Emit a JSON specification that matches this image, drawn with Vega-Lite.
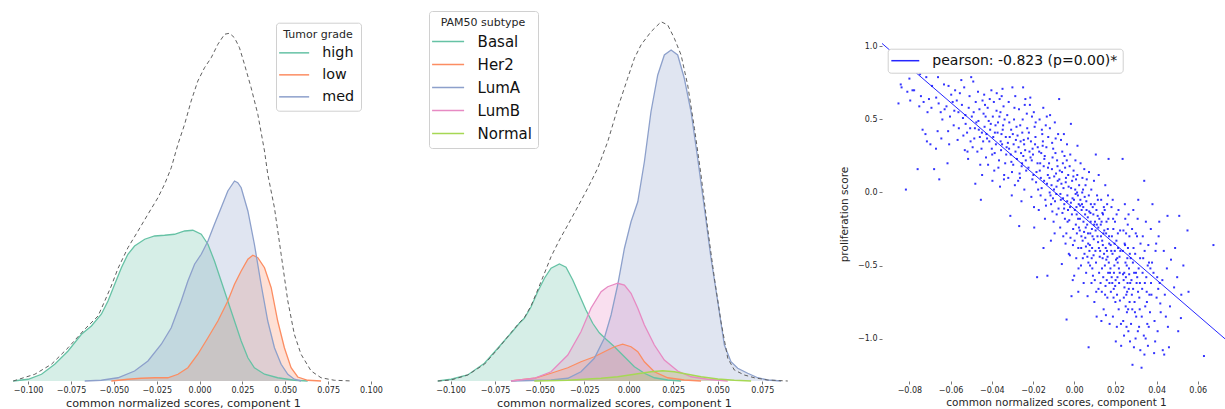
{
"$schema":"https://vega.github.io/schema/vega-lite/v6.json",
"padding":{"left":10,"top":10,"right":0,"bottom":0},
"autosize":{"type":"pad"},
"bounds":"flush",
"spacing":65,
"resolve":{"scale":{"fill":"independent","stroke":"independent","color":"independent"},"legend":{"fill":"independent","stroke":"independent","color":"independent"}},
"config":{"view":{"stroke":null},
"axis":{"domain":false,"grid":false,"labelFont":"DejaVu Sans","titleFont":"DejaVu Sans","labelFontSize":8,"titleFontSize":11.2,"tickColor":"#777","tickSize":3,"labelColor":"#262626","titleColor":"#262626","titleFontWeight":"normal","labelPadding":2,"titlePadding":3},
"legend":{"labelFont":"DejaVu Sans","titleFont":"DejaVu Sans","titleFontWeight":"normal","labelColor":"#111111","titleColor":"#262626","labelLimit":400}},
"datasets":{
"kde1":[
{"g":"high","x":-0.1087,"d":0},{"g":"high","x":-0.1,"d":0.07},{"g":"high","x":-0.0922,"d":0.27},{"g":"high","x":-0.0845,"d":0.67},{"g":"high","x":-0.0767,"d":1.2},{"g":"high","x":-0.0689,"d":1.87},{"g":"high","x":-0.0631,"d":2.2},{"g":"high","x":-0.0573,"d":2.67},{"g":"high","x":-0.0534,"d":3.2},{"g":"high","x":-0.0495,"d":3.87},{"g":"high","x":-0.0456,"d":4.53},{"g":"high","x":-0.0418,"d":5.07},{"g":"high","x":-0.0379,"d":5.4},{"g":"high","x":-0.032,"d":5.67},{"g":"high","x":-0.0262,"d":5.8},{"g":"high","x":-0.0204,"d":5.83},{"g":"high","x":-0.0146,"d":5.87},{"g":"high","x":-0.0087,"d":6.0},{"g":"high","x":-0.0039,"d":6.03},{"g":"high","x":0.001,"d":5.87},{"g":"high","x":0.0049,"d":5.47},{"g":"high","x":0.0087,"d":4.8},{"g":"high","x":0.0126,"d":4.0},{"g":"high","x":0.0165,"d":3.2},{"g":"high","x":0.0204,"d":2.4},{"g":"high","x":0.0243,"d":1.6},{"g":"high","x":0.0282,"d":0.93},{"g":"high","x":0.032,"d":0.53},{"g":"high","x":0.0379,"d":0.27},{"g":"high","x":0.0456,"d":0.13},{"g":"high","x":0.0553,"d":0.03},{"g":"high","x":0.0631,"d":0},
{"g":"low","x":-0.0515,"d":0},{"g":"low","x":-0.0418,"d":0.07},{"g":"low","x":-0.034,"d":0.11},{"g":"low","x":-0.0262,"d":0.13},{"g":"low","x":-0.0185,"d":0.13},{"g":"low","x":-0.0126,"d":0.27},{"g":"low","x":-0.0068,"d":0.53},{"g":"low","x":-0.001,"d":1.07},{"g":"low","x":0.0049,"d":1.73},{"g":"low","x":0.0107,"d":2.4},{"g":"low","x":0.0165,"d":3.2},{"g":"low","x":0.0204,"d":3.87},{"g":"low","x":0.0243,"d":4.4},{"g":"low","x":0.0282,"d":4.87},{"g":"low","x":0.0311,"d":5.03},{"g":"low","x":0.034,"d":4.93},{"g":"low","x":0.0379,"d":4.53},{"g":"low","x":0.0418,"d":3.73},{"g":"low","x":0.0456,"d":2.4},{"g":"low","x":0.0495,"d":1.33},{"g":"low","x":0.0534,"d":0.53},{"g":"low","x":0.0573,"d":0.16},{"g":"low","x":0.0631,"d":0.03},{"g":"low","x":0.0709,"d":0},
{"g":"med","x":-0.067,"d":0},{"g":"med","x":-0.0573,"d":0.03},{"g":"med","x":-0.0476,"d":0.13},{"g":"med","x":-0.0379,"d":0.4},{"g":"med","x":-0.0301,"d":0.8},{"g":"med","x":-0.0223,"d":1.47},{"g":"med","x":-0.0165,"d":2.13},{"g":"med","x":-0.0107,"d":3.2},{"g":"med","x":-0.0068,"d":4.0},{"g":"med","x":-0.0029,"d":4.67},{"g":"med","x":0.001,"d":5.07},{"g":"med","x":0.0049,"d":5.6},{"g":"med","x":0.0087,"d":6.27},{"g":"med","x":0.0126,"d":6.93},{"g":"med","x":0.0165,"d":7.6},{"g":"med","x":0.0204,"d":8.0},{"g":"med","x":0.0223,"d":7.93},{"g":"med","x":0.0243,"d":7.73},{"g":"med","x":0.0282,"d":6.8},{"g":"med","x":0.032,"d":5.47},{"g":"med","x":0.0359,"d":3.87},{"g":"med","x":0.0398,"d":2.4},{"g":"med","x":0.0437,"d":1.33},{"g":"med","x":0.0476,"d":0.67},{"g":"med","x":0.0515,"d":0.27},{"g":"med","x":0.0553,"d":0.07},{"g":"med","x":0.0592,"d":0}
],
"tot1":[
{"x":-0.1087,"d":0},{"x":-0.0961,"d":0.27},{"x":-0.0864,"d":0.67},{"x":-0.0767,"d":1.33},{"x":-0.067,"d":2.07},{"x":-0.0592,"d":2.6},{"x":-0.0553,"d":3.2},{"x":-0.0515,"d":3.8},{"x":-0.0476,"d":4.5},{"x":-0.0418,"d":5.33},{"x":-0.0359,"d":6.0},{"x":-0.0301,"d":6.67},{"x":-0.0243,"d":7.33},{"x":-0.0204,"d":7.87},{"x":-0.0165,"d":8.53},{"x":-0.0126,"d":9.47},{"x":-0.0087,"d":10.27},{"x":-0.0049,"d":11.2},{"x":-0.001,"d":12.0},{"x":0.0029,"d":12.53},{"x":0.0068,"d":12.93},{"x":0.0107,"d":13.47},{"x":0.0146,"d":13.87},{"x":0.0175,"d":13.91},{"x":0.0204,"d":13.73},{"x":0.0233,"d":13.33},{"x":0.0262,"d":12.67},{"x":0.0301,"d":11.73},{"x":0.034,"d":10.67},{"x":0.0379,"d":9.2},{"x":0.0398,"d":8.27},{"x":0.0437,"d":6.93},{"x":0.0476,"d":5.07},{"x":0.0515,"d":3.2},{"x":0.0553,"d":1.87},{"x":0.0592,"d":1.07},{"x":0.0651,"d":0.4},{"x":0.0709,"d":0.13},{"x":0.0786,"d":0.03},{"x":0.0893,"d":0}
],
"kde2":[
{"g":"Basal","x":-0.1072,"d":0},{"g":"Basal","x":-0.0997,"d":0.07},{"g":"Basal","x":-0.0904,"d":0.24},{"g":"Basal","x":-0.081,"d":0.71},{"g":"Basal","x":-0.0735,"d":1.31},{"g":"Basal","x":-0.0661,"d":1.91},{"g":"Basal","x":-0.0614,"d":2.31},{"g":"Basal","x":-0.0586,"d":2.51},{"g":"Basal","x":-0.0548,"d":2.97},{"g":"Basal","x":-0.0511,"d":3.57},{"g":"Basal","x":-0.0473,"d":4.11},{"g":"Basal","x":-0.0436,"d":4.51},{"g":"Basal","x":-0.0389,"d":4.68},{"g":"Basal","x":-0.0352,"d":4.55},{"g":"Basal","x":-0.0314,"d":4.04},{"g":"Basal","x":-0.0277,"d":3.44},{"g":"Basal","x":-0.024,"d":2.84},{"g":"Basal","x":-0.0202,"d":2.31},{"g":"Basal","x":-0.0165,"d":1.93},{"g":"Basal","x":-0.0127,"d":1.67},{"g":"Basal","x":-0.008,"d":1.37},{"g":"Basal","x":-0.0024,"d":0.97},{"g":"Basal","x":0.0032,"d":0.57},{"g":"Basal","x":0.0088,"d":0.31},{"g":"Basal","x":0.0144,"d":0.13},{"g":"Basal","x":0.0219,"d":0.04},{"g":"Basal","x":0.0294,"d":0},
{"g":"Her2","x":-0.0661,"d":0},{"g":"Her2","x":-0.053,"d":0.11},{"g":"Her2","x":-0.0436,"d":0.31},{"g":"Her2","x":-0.0342,"d":0.53},{"g":"Her2","x":-0.0268,"d":0.77},{"g":"Her2","x":-0.0193,"d":0.97},{"g":"Her2","x":-0.0137,"d":1.17},{"g":"Her2","x":-0.008,"d":1.37},{"g":"Her2","x":-0.0034,"d":1.47},{"g":"Her2","x":0.0013,"d":1.37},{"g":"Her2","x":0.0051,"d":1.17},{"g":"Her2","x":0.0088,"d":0.77},{"g":"Her2","x":0.0144,"d":0.37},{"g":"Her2","x":0.0219,"d":0.13},{"g":"Her2","x":0.0312,"d":0.04},{"g":"Her2","x":0.0406,"d":0},
{"g":"LumA","x":-0.0661,"d":0},{"g":"LumA","x":-0.0436,"d":0.04},{"g":"LumA","x":-0.0342,"d":0.11},{"g":"LumA","x":-0.0268,"d":0.37},{"g":"LumA","x":-0.0193,"d":0.91},{"g":"LumA","x":-0.0137,"d":1.71},{"g":"LumA","x":-0.0099,"d":2.64},{"g":"LumA","x":-0.0062,"d":3.84},{"g":"LumA","x":-0.0024,"d":5.31},{"g":"LumA","x":0.0013,"d":6.37},{"g":"LumA","x":0.0051,"d":7.17},{"g":"LumA","x":0.0088,"d":8.77},{"g":"LumA","x":0.0125,"d":10.77},{"g":"LumA","x":0.0163,"d":12.24},{"g":"LumA","x":0.02,"d":13.04},{"g":"LumA","x":0.0238,"d":13.24},{"g":"LumA","x":0.0275,"d":13.04},{"g":"LumA","x":0.0312,"d":12.11},{"g":"LumA","x":0.035,"d":10.77},{"g":"LumA","x":0.0387,"d":8.91},{"g":"LumA","x":0.0425,"d":6.91},{"g":"LumA","x":0.0462,"d":4.91},{"g":"LumA","x":0.05,"d":3.17},{"g":"LumA","x":0.0537,"d":1.44},{"g":"LumA","x":0.0574,"d":0.77},{"g":"LumA","x":0.0612,"d":0.51},{"g":"LumA","x":0.0668,"d":0.31},{"g":"LumA","x":0.0724,"d":0.13},{"g":"LumA","x":0.078,"d":0.04},{"g":"LumA","x":0.0855,"d":0},
{"g":"LumB","x":-0.0661,"d":0},{"g":"LumB","x":-0.053,"d":0.11},{"g":"LumB","x":-0.0436,"d":0.37},{"g":"LumB","x":-0.0342,"d":1.04},{"g":"LumB","x":-0.0268,"d":1.97},{"g":"LumB","x":-0.0212,"d":2.91},{"g":"LumB","x":-0.0155,"d":3.57},{"g":"LumB","x":-0.0118,"d":3.77},{"g":"LumB","x":-0.0062,"d":3.91},{"g":"LumB","x":-0.0024,"d":3.84},{"g":"LumB","x":0.0013,"d":3.51},{"g":"LumB","x":0.0051,"d":2.91},{"g":"LumB","x":0.0088,"d":2.24},{"g":"LumB","x":0.0144,"d":1.44},{"g":"LumB","x":0.02,"d":0.84},{"g":"LumB","x":0.0275,"d":0.4},{"g":"LumB","x":0.035,"d":0.17},{"g":"LumB","x":0.0443,"d":0.07},{"g":"LumB","x":0.0556,"d":0},
{"g":"Normal","x":-0.053,"d":0},{"g":"Normal","x":-0.0342,"d":0.03},{"g":"Normal","x":-0.0155,"d":0.11},{"g":"Normal","x":-0.0062,"d":0.17},{"g":"Normal","x":0.0032,"d":0.27},{"g":"Normal","x":0.0125,"d":0.37},{"g":"Normal","x":0.0191,"d":0.41},{"g":"Normal","x":0.0256,"d":0.37},{"g":"Normal","x":0.0331,"d":0.27},{"g":"Normal","x":0.0406,"d":0.17},{"g":"Normal","x":0.05,"d":0.08},{"g":"Normal","x":0.0593,"d":0.03},{"g":"Normal","x":0.0687,"d":0}
],
"tot2":[
{"x":-0.1072,"d":0},{"x":-0.0997,"d":0.04},{"x":-0.0904,"d":0.24},{"x":-0.081,"d":0.67},{"x":-0.0735,"d":1.28},{"x":-0.0661,"d":1.93},{"x":-0.0614,"d":2.33},{"x":-0.0586,"d":2.53},{"x":-0.0548,"d":3.01},{"x":-0.0511,"d":3.64},{"x":-0.0473,"d":4.31},{"x":-0.0436,"d":4.97},{"x":-0.0389,"d":5.64},{"x":-0.0342,"d":6.24},{"x":-0.0286,"d":6.97},{"x":-0.023,"d":7.71},{"x":-0.0174,"d":8.51},{"x":-0.0118,"d":9.57},{"x":-0.0062,"d":10.91},{"x":-0.0006,"d":12.11},{"x":0.0032,"d":12.91},{"x":0.0069,"d":13.44},{"x":0.0125,"d":13.97},{"x":0.0182,"d":14.37},{"x":0.0219,"d":14.24},{"x":0.0256,"d":13.71},{"x":0.0294,"d":13.04},{"x":0.0331,"d":11.84},{"x":0.0369,"d":10.11},{"x":0.0406,"d":8.24},{"x":0.0443,"d":6.11},{"x":0.0481,"d":4.11},{"x":0.0518,"d":2.37},{"x":0.0556,"d":0.91},{"x":0.0593,"d":0.44},{"x":0.0649,"d":0.24},{"x":0.0705,"d":0.13},{"x":0.078,"d":0.04},{"x":0.0893,"d":0}
],
"fit":[{"x":-0.0933,"y":1.021,"label":"pearson: -0.823 (p=0.00)*"},{"x":0.0737,"y":-1.008,"label":"pearson: -0.823 (p=0.00)*"}],
"pts":[
{"x":-0.0853,"y":0.61},{"x":-0.0842,"y":0.74},{"x":-0.0838,"y":0.72},
{"x":-0.0817,"y":0.02},{"x":-0.08,"y":0.78},{"x":-0.0796,"y":0.63},{"x":-0.081,"y":0.69},{"x":-0.0785,"y":0.7},
{"x":-0.076,"y":0.16},{"x":-0.0777,"y":0.7},{"x":-0.0744,"y":0.66},{"x":-0.0736,"y":0.43},{"x":-0.0752,"y":0.59},{"x":-0.0748,"y":0.81},{"x":-0.0731,"y":0.62},
{"x":-0.0715,"y":0.35},{"x":-0.0712,"y":0.55},{"x":-0.0722,"y":0.4},{"x":-0.0705,"y":0.64},{"x":-0.069,"y":0.73},{"x":-0.0698,"y":0.33},{"x":-0.068,"y":0.16},{"x":-0.0718,"y":0.79},{"x":-0.0693,"y":0.58},
{"x":-0.067,"y":0.65},{"x":-0.0663,"y":0.42},{"x":-0.0655,"y":0.09},{"x":-0.0661,"y":0.79},{"x":-0.0648,"y":0.55},{"x":-0.064,"y":0.5},{"x":-0.0658,"y":0.61},{"x":-0.0632,"y":0.74},{"x":-0.0671,"y":0.3},{"x":-0.0645,"y":0.37},{"x":-0.0629,"y":0.57},
{"x":-0.0615,"y":0.2},{"x":-0.0612,"y":0.42},{"x":-0.0607,"y":0.33},{"x":-0.0597,"y":0.67},{"x":-0.059,"y":0.62},{"x":-0.0603,"y":0.52},{"x":-0.0585,"y":0.46},{"x":-0.062,"y":0.59},{"x":-0.0578,"y":0.7},{"x":-0.0595,"y":0.85},{"x":-0.061,"y":0.73},{"x":-0.0582,"y":0.56},
{"x":-0.057,"y":0.63},{"x":-0.055,"y":0.83},{"x":-0.0534,"y":0.72},{"x":-0.054,"y":0.51},{"x":-0.056,"y":0.44},{"x":-0.0545,"y":0.6},{"x":-0.0528,"y":0.53},{"x":-0.0566,"y":0.36},{"x":-0.0538,"y":0.39},{"x":-0.0555,"y":0.68},{"x":-0.0531,"y":0.29},{"x":-0.0548,"y":0.77},{"x":-0.0562,"y":0.55},{"x":-0.0527,"y":0.47},
{"x":-0.0518,"y":0.28},{"x":-0.049,"y":0.76},{"x":-0.048,"y":0.06},{"x":-0.0505,"y":0.44},{"x":-0.0512,"y":0.58},{"x":-0.0497,"y":0.52},{"x":-0.0485,"y":0.37},{"x":-0.0475,"y":0.48},{"x":-0.0508,"y":0.66},{"x":-0.052,"y":0.41},{"x":-0.0493,"y":0.31},{"x":-0.0478,"y":0.62},{"x":-0.05,"y":0.79},{"x":-0.0515,"y":0.23},{"x":-0.0488,"y":0.55},{"x":-0.0482,"y":0.44},{"x":-0.0503,"y":0.35},
{"x":-0.0453,"y":-0.05},{"x":-0.0456,"y":0.19},{"x":-0.0437,"y":0.67},{"x":-0.0465,"y":0.49},{"x":-0.0448,"y":0.41},{"x":-0.046,"y":0.57},{"x":-0.0442,"y":0.35},{"x":-0.043,"y":0.52},{"x":-0.047,"y":0.28},{"x":-0.0445,"y":0.63},{"x":-0.0435,"y":0.45},{"x":-0.0458,"y":0.38},{"x":-0.0428,"y":0.24},{"x":-0.0467,"y":0.69},{"x":-0.045,"y":0.3},{"x":-0.044,"y":0.54},{"x":-0.0463,"y":0.43},{"x":-0.0433,"y":0.6},{"x":-0.0447,"y":0.12},{"x":-0.0426,"y":0.4},
{"x":-0.042,"y":0.58},{"x":-0.0412,"y":0.35},{"x":-0.0405,"y":0.47},{"x":-0.0398,"y":0.26},{"x":-0.039,"y":0.62},{"x":-0.0385,"y":0.41},{"x":-0.0402,"y":0.7},{"x":-0.0418,"y":0.19},{"x":-0.038,"y":0.33},{"x":-0.0395,"y":0.52},{"x":-0.0408,"y":0.43},{"x":-0.0388,"y":0.15},{"x":-0.0377,"y":0.56},{"x":-0.0415,"y":0.49},{"x":-0.04,"y":0.3},{"x":-0.0393,"y":0.38},{"x":-0.0382,"y":0.46},{"x":-0.041,"y":0.64},{"x":-0.0397,"y":0.08},{"x":-0.0423,"y":0.37},{"x":-0.0386,"y":0.27},{"x":-0.0376,"y":0.68},
{"x":-0.0372,"y":0.41},{"x":-0.0365,"y":0.22},{"x":-0.0358,"y":0.55},{"x":-0.035,"y":0.33},{"x":-0.0345,"y":0.46},{"x":-0.034,"y":0.12},{"x":-0.0362,"y":0.64},{"x":-0.0355,"y":0.29},{"x":-0.0332,"y":0.38},{"x":-0.0348,"y":0.71},{"x":-0.0368,"y":0.17},{"x":-0.0338,"y":0.5},{"x":-0.0353,"y":0.4},{"x":-0.036,"y":0.04},{"x":-0.033,"y":0.26},{"x":-0.0343,"y":0.59},{"x":-0.037,"y":0.48},{"x":-0.0335,"y":0.2},{"x":-0.0357,"y":0.35},{"x":-0.0347,"y":0.43},{"x":-0.0328,"y":0.31},{"x":-0.0363,"y":0.52},{"x":-0.0341,"y":0.09},{"x":-0.0352,"y":0.66},
{"x":-0.031,"y":-0.16},{"x":-0.0322,"y":0.34},{"x":-0.0315,"y":0.48},{"x":-0.0305,"y":0.21},{"x":-0.0298,"y":0.4},{"x":-0.029,"y":0.58},{"x":-0.0285,"y":0.28},{"x":-0.0318,"y":0.62},{"x":-0.0302,"y":0.14},{"x":-0.0294,"y":0.33},{"x":-0.028,"y":0.45},{"x":-0.0308,"y":0.26},{"x":-0.0325,"y":0.53},{"x":-0.0288,"y":0.05},{"x":-0.03,"y":0.72},{"x":-0.0313,"y":0.38},{"x":-0.0296,"y":0.19},{"x":-0.0283,"y":0.36},{"x":-0.032,"y":0.1},{"x":-0.0292,"y":0.5},{"x":-0.0306,"y":0.43},{"x":-0.0278,"y":0.23},{"x":-0.0316,"y":0.3},{"x":-0.0286,"y":0.66},{"x":-0.0303,"y":-0.02},
{"x":-0.0267,"y":-0.23},{"x":-0.027,"y":0.31},{"x":-0.0262,"y":0.46},{"x":-0.0255,"y":0.18},{"x":-0.0248,"y":0.72},{"x":-0.024,"y":0.6},{"x":-0.0258,"y":0.27},{"x":-0.0245,"y":0.36},{"x":-0.0272,"y":0.08},{"x":-0.0235,"y":0.22},{"x":-0.0252,"y":0.41},{"x":-0.023,"y":0.54},{"x":-0.0265,"y":0.13},{"x":-0.0242,"y":0.02},{"x":-0.0275,"y":0.39},{"x":-0.0238,"y":0.29},{"x":-0.025,"y":0.5},{"x":-0.026,"y":0.35},{"x":-0.0233,"y":0.15},{"x":-0.0247,"y":0.25},{"x":-0.0268,"y":0.57},{"x":-0.0228,"y":0.44},{"x":-0.0256,"y":-0.06},{"x":-0.0243,"y":0.33},{"x":-0.0237,"y":0.64},{"x":-0.0253,"y":0.2},{"x":-0.0263,"y":0.1},
{"x":-0.0194,"y":-0.24},{"x":-0.018,"y":-0.58},{"x":-0.022,"y":0.41},{"x":-0.0212,"y":0.24},{"x":-0.0205,"y":0.52},{"x":-0.0198,"y":0.12},{"x":-0.019,"y":0.33},{"x":-0.0185,"y":0.07},{"x":-0.0215,"y":0.6},{"x":-0.0202,"y":0.3},{"x":-0.0178,"y":0.2},{"x":-0.0208,"y":-0.03},{"x":-0.0192,"y":0.45},{"x":-0.0222,"y":0.17},{"x":-0.0188,"y":0.38},{"x":-0.02,"y":0.26},{"x":-0.0175,"y":0.02},{"x":-0.021,"y":0.35},{"x":-0.0196,"y":0.55},{"x":-0.0183,"y":0.14},{"x":-0.0217,"y":0.28},{"x":-0.0203,"y":0.09},{"x":-0.0187,"y":0.48},{"x":-0.0224,"y":0.37},{"x":-0.0195,"y":-0.1},{"x":-0.0177,"y":0.31},{"x":-0.0206,"y":0.22},{"x":-0.0213,"y":0.65},
{"x":-0.013,"y":-0.57},{"x":-0.0149,"y":-0.38},{"x":-0.017,"y":0.28},{"x":-0.0162,"y":0.1},{"x":-0.0155,"y":0.4},{"x":-0.0148,"y":0.18},{"x":-0.014,"y":-0.05},{"x":-0.0135,"y":0.31},{"x":-0.0168,"y":0.5},{"x":-0.0158,"y":0.03},{"x":-0.0145,"y":0.23},{"x":-0.0128,"y":0.12},{"x":-0.0172,"y":-0.12},{"x":-0.0152,"y":0.35},{"x":-0.0138,"y":0.46},{"x":-0.0165,"y":0.2},{"x":-0.0142,"y":-0.18},{"x":-0.0132,"y":0.06},{"x":-0.016,"y":0.27},{"x":-0.015,"y":0.58},{"x":-0.0126,"y":0.38},{"x":-0.0146,"y":0.08},{"x":-0.0167,"y":0.15},{"x":-0.0137,"y":-0.09},{"x":-0.0157,"y":0.43},{"x":-0.0143,"y":0.25},{"x":-0.0127,"y":0.17},{"x":-0.0163,"y":-0.02},{"x":-0.0153,"y":0.32},{"x":-0.0133,"y":0.52},
{"x":-0.012,"y":0.1},{"x":-0.0112,"y":-0.08},{"x":-0.0105,"y":0.24},{"x":-0.0098,"y":0.02},{"x":-0.009,"y":0.37},{"x":-0.0085,"y":-0.15},{"x":-0.0118,"y":0.44},{"x":-0.0108,"y":0.16},{"x":-0.0095,"y":-0.28},{"x":-0.008,"y":0.08},{"x":-0.0115,"y":-0.02},{"x":-0.0102,"y":0.3},{"x":-0.0088,"y":0.13},{"x":-0.0122,"y":0.2},{"x":-0.0093,"y":-0.06},{"x":-0.0078,"y":0.4},{"x":-0.011,"y":0.05},{"x":-0.01,"y":-0.2},{"x":-0.0083,"y":0.22},{"x":-0.0117,"y":0.53},{"x":-0.0097,"y":0.11},{"x":-0.0087,"y":-0.01},{"x":-0.0107,"y":0.34},{"x":-0.0076,"y":-0.11},{"x":-0.0113,"y":-0.33},{"x":-0.0091,"y":0.27},{"x":-0.0103,"y":-0.04},{"x":-0.0081,"y":0.18},{"x":-0.0119,"y":0.0},{"x":-0.0094,"y":0.48},{"x":-0.0073,"y":0.64},{"x":-0.0106,"y":-0.13},{"x":-0.0086,"y":0.04},
{"x":-0.006,"y":-0.49},{"x":-0.0037,"y":-0.87},{"x":-0.0016,"y":0.47},{"x":-0.007,"y":0.15},{"x":-0.0065,"y":-0.05},{"x":-0.0058,"y":0.28},{"x":-0.0052,"y":0.03},{"x":-0.0045,"y":-0.18},{"x":-0.004,"y":0.1},{"x":-0.0068,"y":-0.24},{"x":-0.0055,"y":0.2},{"x":-0.0048,"y":-0.08},{"x":-0.0035,"y":0.33},{"x":-0.003,"y":-0.12},{"x":-0.0062,"y":0.06},{"x":-0.0042,"y":-0.35},{"x":-0.0027,"y":0.04},{"x":-0.005,"y":0.4},{"x":-0.0033,"y":-0.02},{"x":-0.0057,"y":-0.14},{"x":-0.0044,"y":0.17},{"x":-0.0038,"y":-0.28},{"x":-0.0064,"y":0.36},{"x":-0.0029,"y":0.12},{"x":-0.0053,"y":-0.3},{"x":-0.0047,"y":0.25},{"x":-0.0032,"y":-0.2},{"x":-0.0067,"y":-0.01},{"x":-0.0041,"y":0.07},{"x":-0.0026,"y":-0.42},{"x":-0.0059,"y":0.14},{"x":-0.0036,"y":0.22},{"x":-0.0049,"y":-0.11},{"x":-0.0072,"y":0.09},{"x":-0.0034,"y":-0.06},{"x":-0.0054,"y":-0.04},
{"x":-0.0013,"y":-0.71},{"x":0.0,"y":-0.57},{"x":-0.002,"y":-0.1},{"x":-0.001,"y":0.08},{"x":-0.0005,"y":-0.25},{"x":0.0005,"y":0.02},{"x":0.0012,"y":-0.15},{"x":0.0016,"y":0.32},{"x":0.002,"y":-0.38},{"x":-0.0022,"y":0.18},{"x":-0.0008,"y":-0.04},{"x":0.0008,"y":-0.22},{"x":0.0015,"y":0.12},{"x":0.0022,"y":-0.08},{"x":-0.0018,"y":-0.31},{"x":-0.0003,"y":0.15},{"x":0.001,"y":-0.45},{"x":0.0018,"y":-0.02},{"x":-0.0015,"y":0.03},{"x":0.0003,"y":-0.12},{"x":0.0024,"y":0.05},{"x":-0.0024,"y":-0.19},{"x":-0.0006,"y":-0.36},{"x":0.0013,"y":-0.28},{"x":0.0006,"y":0.22},{"x":-0.0011,"y":-0.15},{"x":0.0019,"y":-0.18},{"x":-0.0001,"y":-0.05},{"x":0.0009,"y":0.09},{"x":-0.0019,"y":0.26},{"x":0.0021,"y":-0.52},{"x":-0.0007,"y":-0.6},{"x":0.0002,"y":-0.33},{"x":0.0014,"y":0.0},{"x":-0.0016,"y":-0.07},{"x":0.0011,"y":-0.1},{"x":-0.0004,"y":0.11},{"x":0.0023,"y":-0.24},{"x":-0.0021,"y":-0.43},{"x":0.0007,"y":-0.01},
{"x":0.002,"y":-0.68},{"x":0.007,"y":-1.06},{"x":0.0065,"y":-0.71},{"x":0.003,"y":-0.05},{"x":0.0035,"y":-0.3},{"x":0.004,"y":0.1},{"x":0.0045,"y":-0.2},{"x":0.005,"y":-0.42},{"x":0.0055,"y":0.05},{"x":0.006,"y":-0.12},{"x":0.0068,"y":-0.35},{"x":0.0072,"y":0.14},{"x":0.0028,"y":-0.18},{"x":0.0033,"y":-0.5},{"x":0.0038,"y":-0.08},{"x":0.0043,"y":0.02},{"x":0.0048,"y":-0.27},{"x":0.0053,"y":-0.15},{"x":0.0058,"y":-0.55},{"x":0.0063,"y":-0.22},{"x":0.0071,"y":-0.02},{"x":0.0074,"y":-0.4},{"x":0.0031,"y":0.2},{"x":0.0036,"y":-0.12},{"x":0.0041,"y":-0.33},{"x":0.0046,"y":-0.62},{"x":0.0051,"y":-0.03},{"x":0.0056,"y":-0.24},{"x":0.0061,"y":0.09},{"x":0.0066,"y":-0.17},{"x":0.0069,"y":-0.48},{"x":0.0027,"y":-0.26},{"x":0.0034,"y":-0.38},{"x":0.0039,"y":0.0},{"x":0.0044,"y":-0.1},{"x":0.0049,"y":0.16},{"x":0.0054,"y":-0.31},{"x":0.0059,"y":-0.06},{"x":0.0064,"y":-0.44},{"x":0.0067,"y":-0.28},{"x":0.0073,"y":-0.13},{"x":0.0029,"y":-0.09},{"x":0.0042,"y":-0.45},{"x":0.0057,"y":-0.37},
{"x":0.0105,"y":0.26},{"x":0.008,"y":-0.2},{"x":0.0085,"y":-0.45},{"x":0.009,"y":-0.1},{"x":0.0095,"y":-0.32},{"x":0.01,"y":-0.6},{"x":0.011,"y":-0.22},{"x":0.0115,"y":-0.05},{"x":0.012,"y":-0.38},{"x":0.0078,"y":-0.28},{"x":0.0083,"y":0.02},{"x":0.0088,"y":-0.52},{"x":0.0093,"y":-0.15},{"x":0.0098,"y":-0.75},{"x":0.0103,"y":-0.4},{"x":0.0108,"y":-0.12},{"x":0.0113,"y":-0.3},{"x":0.0118,"y":-0.66},{"x":0.0122,"y":-0.18},{"x":0.0076,"y":-0.36},{"x":0.0081,"y":-0.08},{"x":0.0086,"y":-0.25},{"x":0.0091,"y":-0.57},{"x":0.0096,"y":0.08},{"x":0.0101,"y":-0.2},{"x":0.0106,"y":-0.48},{"x":0.0111,"y":-0.02},{"x":0.0116,"y":-0.34},{"x":0.0121,"y":-0.55},{"x":0.0079,"y":-0.14},{"x":0.0084,"y":-0.62},{"x":0.0089,"y":-0.3},{"x":0.0094,"y":-0.43},{"x":0.0099,"y":-0.08},{"x":0.0104,"y":-0.26},{"x":0.0109,"y":-0.85},{"x":0.0114,"y":-0.16},{"x":0.0119,"y":0.12},{"x":0.0124,"y":-0.44},{"x":0.0077,"y":-0.5},{"x":0.0087,"y":-0.38},{"x":0.0097,"y":-0.22},{"x":0.0107,"y":-0.68},{"x":0.0117,"y":-0.24},
{"x":0.0167,"y":0.23},{"x":0.013,"y":-0.3},{"x":0.0135,"y":-0.52},{"x":0.014,"y":-0.15},{"x":0.0145,"y":-0.42},{"x":0.015,"y":-0.7},{"x":0.0155,"y":-0.28},{"x":0.016,"y":-0.08},{"x":0.0165,"y":-0.55},{"x":0.017,"y":-0.35},{"x":0.0128,"y":-0.62},{"x":0.0133,"y":-0.2},{"x":0.0138,"y":-0.45},{"x":0.0143,"y":-0.8},{"x":0.0148,"y":-0.12},{"x":0.0153,"y":-0.38},{"x":0.0158,"y":-0.6},{"x":0.0163,"y":-0.25},{"x":0.0168,"y":-0.48},{"x":0.0172,"y":-0.9},{"x":0.0126,"y":-0.4},{"x":0.0131,"y":-0.05},{"x":0.0136,"y":-0.33},{"x":0.0141,"y":-0.58},{"x":0.0146,"y":-0.26},{"x":0.0151,"y":0.05},{"x":0.0156,"y":-0.46},{"x":0.0161,"y":-0.72},{"x":0.0166,"y":-0.18},{"x":0.0171,"y":-0.62},{"x":0.0129,"y":-0.22},{"x":0.0134,"y":-0.68},{"x":0.0139,"y":-0.36},{"x":0.0144,"y":-0.1},{"x":0.0149,"y":-0.5},{"x":0.0154,"y":-0.84},{"x":0.0159,"y":-0.4},{"x":0.0164,"y":-0.02},{"x":0.0169,"y":-0.3},{"x":0.0174,"y":-0.55},{"x":0.0132,"y":-0.88},{"x":0.0142,"y":-0.28},{"x":0.0152,"y":-0.64},{"x":0.0162,"y":-0.44},{"x":0.0137,"y":-0.14},{"x":0.0157,"y":-0.2},
{"x":0.0235,"y":0.23},{"x":0.0227,"y":-0.9},{"x":0.0202,"y":-1.02},{"x":0.0228,"y":-1.05},{"x":0.018,"y":-0.4},{"x":0.0185,"y":-0.62},{"x":0.019,"y":-0.25},{"x":0.0195,"y":-0.5},{"x":0.02,"y":-0.75},{"x":0.0205,"y":-0.33},{"x":0.021,"y":-0.58},{"x":0.0215,"y":-0.12},{"x":0.022,"y":-0.44},{"x":0.0178,"y":-0.68},{"x":0.0183,"y":-0.3},{"x":0.0188,"y":-0.85},{"x":0.0193,"y":-0.55},{"x":0.0198,"y":-0.2},{"x":0.0203,"y":-0.46},{"x":0.0208,"y":-0.7},{"x":0.0213,"y":-0.38},{"x":0.0218,"y":-0.62},{"x":0.0223,"y":-0.26},{"x":0.0176,"y":-0.52},{"x":0.0181,"y":-0.1},{"x":0.0186,"y":-0.42},{"x":0.0191,"y":-0.72},{"x":0.0196,"y":-0.35},{"x":0.0201,"y":-0.6},{"x":0.0206,"y":-0.15},{"x":0.0211,"y":-0.48},{"x":0.0216,"y":-0.8},{"x":0.0221,"y":-0.55},{"x":0.0177,"y":-0.36},{"x":0.0182,"y":-0.58},{"x":0.0187,"y":-0.05},{"x":0.0192,"y":-0.66},{"x":0.0197,"y":-0.4},{"x":0.0207,"y":-0.92},{"x":0.0212,"y":-0.28},{"x":0.0217,"y":-0.52},{"x":0.0222,"y":-0.74},{"x":0.0224,"y":-0.4},{"x":0.0189,"y":-0.18},{"x":0.0199,"y":-0.64},{"x":0.0209,"y":-0.45},
{"x":0.024,"y":-0.6},{"x":0.0245,"y":-0.35},{"x":0.025,"y":-0.78},{"x":0.0255,"y":-0.5},{"x":0.026,"y":-0.22},{"x":0.0265,"y":-0.66},{"x":0.027,"y":-0.42},{"x":0.0238,"y":-0.88},{"x":0.0243,"y":-0.55},{"x":0.0248,"y":-0.18},{"x":0.0253,"y":-0.7},{"x":0.0258,"y":-0.45},{"x":0.0263,"y":-0.95},{"x":0.0268,"y":-0.3},{"x":0.0272,"y":-0.62},{"x":0.0236,"y":-0.4},{"x":0.0241,"y":-0.72},{"x":0.0246,"y":-0.08},{"x":0.0251,"y":-0.58},{"x":0.0256,"y":-0.82},{"x":0.0261,"y":-0.38},{"x":0.0266,"y":-0.52},{"x":0.0271,"y":-1.02},{"x":0.0239,"y":-0.26},{"x":0.0244,"y":-0.65},{"x":0.0249,"y":-0.48},{"x":0.0254,"y":-0.92},{"x":0.0259,"y":-0.62},{"x":0.0264,"y":-0.15},{"x":0.0269,"y":-0.75},{"x":0.0274,"y":-0.45},{"x":0.0237,"y":-0.56},{"x":0.0247,"y":-0.36},{"x":0.0257,"y":-0.68},{"x":0.0267,"y":-0.56},{"x":0.0242,"y":-0.98},{"x":0.0262,"y":-0.8},{"x":0.0252,"y":-0.28},
{"x":0.0283,"y":-1.18},{"x":0.029,"y":-1.06},{"x":0.028,"y":-0.7},{"x":0.0285,"y":-0.48},{"x":0.0295,"y":-0.82},{"x":0.03,"y":-0.55},{"x":0.0305,"y":-0.3},{"x":0.031,"y":-0.68},{"x":0.0315,"y":-0.92},{"x":0.032,"y":-0.45},{"x":0.0278,"y":-0.6},{"x":0.0288,"y":-0.38},{"x":0.0293,"y":-0.75},{"x":0.0298,"y":-1.0},{"x":0.0303,"y":-0.62},{"x":0.0308,"y":-0.18},{"x":0.0313,"y":-0.52},{"x":0.0318,"y":-0.8},{"x":0.0322,"y":-0.35},{"x":0.0276,"y":-0.9},{"x":0.0281,"y":-0.25},{"x":0.0286,"y":-0.66},{"x":0.0296,"y":-0.42},{"x":0.0301,"y":-0.85},{"x":0.0306,"y":-0.58},{"x":0.0311,"y":-0.05},{"x":0.0316,"y":-0.72},{"x":0.0321,"y":-1.08},{"x":0.0291,"y":-0.55},{"x":0.0282,"y":-0.8},{"x":0.0299,"y":-0.28},{"x":0.0309,"y":-0.95},{"x":0.0319,"y":-0.62},{"x":0.0287,"y":-0.12},
{"x":0.034,"y":0.08},{"x":0.0327,"y":-1.2},{"x":0.0341,"y":-1.11},{"x":0.033,"y":-0.66},{"x":0.0335,"y":-0.45},{"x":0.0345,"y":-0.78},{"x":0.035,"y":-0.58},{"x":0.0355,"y":-0.9},{"x":0.036,"y":-0.36},{"x":0.0365,"y":-0.7},{"x":0.037,"y":-0.52},{"x":0.0328,"y":-0.85},{"x":0.0333,"y":-0.3},{"x":0.0338,"y":-0.98},{"x":0.0343,"y":-0.62},{"x":0.0348,"y":-0.2},{"x":0.0353,"y":-0.75},{"x":0.0358,"y":-1.05},{"x":0.0363,"y":-0.48},{"x":0.0368,"y":-0.82},{"x":0.0373,"y":-0.62},{"x":0.0332,"y":-0.55},{"x":0.0342,"y":-0.4},{"x":0.0352,"y":-0.68},{"x":0.0362,"y":-0.92},{"x":0.0372,"y":-0.25},{"x":0.0347,"y":-1.0},{"x":0.0357,"y":-0.5},
{"x":0.038,"y":-0.08},{"x":0.0388,"y":-1.1},{"x":0.0375,"y":-0.7},{"x":0.0385,"y":-0.55},{"x":0.039,"y":-0.88},{"x":0.0395,"y":-0.4},{"x":0.04,"y":-0.72},{"x":0.0405,"y":-0.95},{"x":0.041,"y":-0.3},{"x":0.0415,"y":-0.62},{"x":0.042,"y":-0.82},{"x":0.0378,"y":-0.48},{"x":0.0393,"y":-1.02},{"x":0.0403,"y":-0.58},{"x":0.0413,"y":-0.2},{"x":0.0418,"y":-0.76},{"x":0.0398,"y":-0.35},{"x":0.0408,"y":-0.66},
{"x":0.0437,"y":-1.11},{"x":0.043,"y":-1.08},{"x":0.046,"y":-1.06},{"x":0.0453,"y":-0.16},{"x":0.047,"y":-0.46},{"x":0.0485,"y":-0.65},{"x":0.044,"y":-0.7},{"x":0.0445,"y":-0.85},{"x":0.045,"y":-0.52},{"x":0.0435,"y":-0.4},{"x":0.0465,"y":-0.78},{"x":0.0455,"y":-0.92},{"x":0.0428,"y":-0.6},
{"x":0.051,"y":-0.16},{"x":0.0518,"y":-0.86},{"x":0.05,"y":-0.58},{"x":0.049,"y":-0.38},{"x":0.052,"y":-0.7},{"x":0.0505,"y":-0.95},
{"x":0.055,"y":-0.26},{"x":0.0555,"y":-0.68},{"x":0.053,"y":-0.5},
{"x":0.063,"y":-1.12},{"x":0.0676,"y":-0.36}
]},
"hconcat":[
{"width":362,"height":370,
"layer":[
{"data":{"name":"kde1"},"mark":{"type":"area","fillOpacity":0.27},
"encoding":{"x":{"field":"x","type":"quantitative","scale":{"domain":[-0.11,0.1012],"nice":false,"zero":false},"axis":{"values":[-0.1,-0.075,-0.05,-0.025,0,0.025,0.05,0.075,0.1],"format":".3f","title":"common normalized scores, component 1","titleX":172}},
"y":{"field":"d","type":"quantitative","stack":null,"scale":{"domain":[0,14.8],"nice":false},"axis":null},
"fill":{"field":"g","type":"nominal","scale":{"domain":["med","low","high"],"range":["#8da0cb","#fc8d62","#66c2a5"]},"legend":null}}},
{"data":{"name":"kde1"},"mark":{"type":"line","strokeWidth":1.3},
"encoding":{"x":{"field":"x","type":"quantitative"},"y":{"field":"d","type":"quantitative"},
"stroke":{"field":"g","type":"nominal","scale":{"domain":["high","low","med"],"range":["#66c2a5","#fc8d62","#8da0cb"]},
"legend":{"orient":"none","legendX":265,"legendY":11.7,"title":"Tumor grade","titleFontSize":11,"titleAnchor":"middle","titlePadding":6,"labelFontSize":14.3,"symbolType":"M-2.5,0H2.5","symbolSize":144,"symbolStrokeWidth":1.5,"symbolOffset":5,"labelOffset":21,"rowPadding":7,"padding":6,"strokeColor":"#d0d0d0","fillColor":"#ffffff","cornerRadius":3}}}},
{"data":{"name":"tot1"},"mark":{"type":"line","color":"#606060","strokeDash":[4,3],"strokeWidth":1},
"encoding":{"x":{"field":"x","type":"quantitative"},"y":{"field":"d","type":"quantitative"}}}
]},
{"width":379,"height":370,
"layer":[
{"data":{"name":"kde2"},"mark":{"type":"area","fillOpacity":0.27},
"encoding":{"x":{"field":"x","type":"quantitative","scale":{"domain":[-0.10706,0.1057],"nice":false,"zero":false},"axis":{"values":[-0.1,-0.075,-0.05,-0.025,0,0.025,0.05,0.075],"format":".3f","title":"common normalized scores, component 1","titleX":176}},
"y":{"field":"d","type":"quantitative","stack":null,"scale":{"domain":[0,14.8],"nice":false},"axis":null},
"fill":{"field":"g","type":"nominal","scale":{"domain":["Normal","LumB","LumA","Her2","Basal"],"range":["#a6d854","#e78ac3","#8da0cb","#fc8d62","#66c2a5"]},"legend":null}}},
{"data":{"name":"kde2"},"mark":{"type":"line","strokeWidth":1.3},
"encoding":{"x":{"field":"x","type":"quantitative"},"y":{"field":"d","type":"quantitative"},
"stroke":{"field":"g","type":"nominal","scale":{"domain":["Basal","Her2","LumA","LumB","Normal"],"range":["#66c2a5","#fc8d62","#8da0cb","#e78ac3","#a6d854"]},
"legend":{"orient":"none","legendX":-9,"legendY":0,"title":"PAM50 subtype","titleFontSize":11,"titleAnchor":"middle","titlePadding":6,"labelFontSize":15,"symbolType":"M-2.5,0H2.5","symbolSize":164,"symbolStrokeWidth":1.5,"symbolOffset":5.6,"labelOffset":22,"rowPadding":7,"padding":6,"strokeColor":"#d0d0d0","fillColor":"#ffffff","cornerRadius":3}}}},
{"data":{"name":"tot2"},"mark":{"type":"line","color":"#606060","strokeDash":[4,3],"strokeWidth":1},
"encoding":{"x":{"field":"x","type":"quantitative"},"y":{"field":"d","type":"quantitative"}}}
]},
{"width":344,"height":370,
"layer":[
{"data":{"name":"pts"},"mark":{"type":"point","shape":"square","filled":true,"size":4,"color":"#0000ff","opacity":0.8,"clip":true},
"encoding":{"x":{"field":"x","type":"quantitative","scale":{"domain":[-0.0933,0.0737],"nice":false,"zero":false},"axis":{"values":[-0.08,-0.06,-0.04,-0.02,0,0.02,0.04,0.06],"format":".2f","title":"common normalized scores, component 1","titleFontSize":10.5,"titleX":174}},
"y":{"field":"y","type":"quantitative","scale":{"domain":[-1.291,1.243],"nice":false,"zero":false},"axis":{"values":[-1,-0.5,0,0.5,1],"format":".1f","title":"proliferation score","titleFontSize":10.5,"titleY":203,"titlePadding":8}}}},
{"data":{"name":"fit"},"mark":{"type":"line","strokeWidth":1,"opacity":0.85,"clip":true},
"encoding":{"x":{"field":"x","type":"quantitative"},"y":{"field":"y","type":"quantitative"},
"stroke":{"field":"label","type":"nominal","scale":{"domain":["pearson: -0.823 (p=0.00)*"],"range":["#0000ff"]},
"legend":{"orient":"none","legendX":5.7,"legendY":37.7,"title":null,"labelFontSize":14,"symbolType":"M-2.5,0H2.5","symbolSize":125,"symbolStrokeWidth":1.5,"symbolOffset":5.6,"labelOffset":20,"padding":5,"strokeColor":"#d0d0d0","fillColor":"#ffffff","cornerRadius":3}}}}
]}
]
}
